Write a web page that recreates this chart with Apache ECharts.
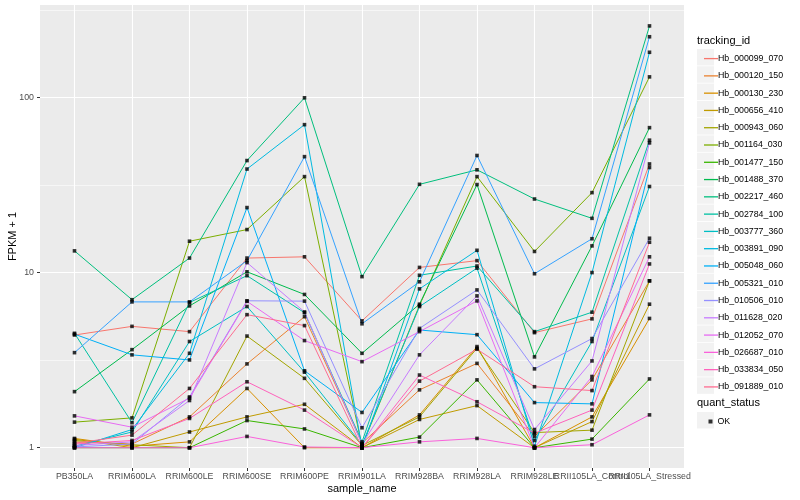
<!DOCTYPE html>
<html><head><meta charset="utf-8">
<script src="https://cdn.jsdelivr.net/npm/echarts@6/dist/echarts.min.js"></script>
<style>html,body{margin:0;padding:0;background:#fff}#c{width:800px;height:500px}</style>
</head><body><div id="c"></div>
<script>
const categories = ['PB350LA','RRIM600LA','RRIM600LE','RRIM600SE','RRIM600PE','RRIM901LA','RRIM928BA','RRIM928LA','RRIM928LE','RRII105LA_Control','RRII105LA_Stressed'];
const trackingIds = ['Hb_000099_070','Hb_000120_150','Hb_000130_230','Hb_000656_410','Hb_000943_060','Hb_001164_030','Hb_001477_150','Hb_001488_370','Hb_002217_460','Hb_002784_100','Hb_003777_360','Hb_003891_090','Hb_005048_060','Hb_005321_010','Hb_010506_010','Hb_011628_020','Hb_012052_070','Hb_026687_010','Hb_033834_050','Hb_091889_010'];
const colors = ['#F8766D','#EA8331','#D89000','#C09B00','#A3A500','#7CAE00','#39B600','#00BB4E','#00BF7D','#00C1A3','#00BFC4','#00BAE0','#00B0F6','#35A2FF','#9590FF','#C77CFF','#E76BF3','#FA62DB','#FF62BC','#FF6C91'];
const yTicks = [1, 10, 100];
const yMinorTicks = [3.1623, 31.623, 316.23];

const Hb_000099_070 = [4.4, 4.93, 4.6, 12.1, 12.3, 5.3, 10.7, 11.7, 4.54, 5.44, 41.7];
const Hb_000120_150 = [1.08, 1.05, 1.50, 3.01, 5.6, 1.06, 2.14, 3.03, 1.16, 2.44, 8.97];
const Hb_000130_230 = [1.13, 1.02, 1.08, 2.18, 1.0, 1.0, 1.54, 3.78, 1.0, 1.50, 5.47];
const Hb_000656_410 = [1.12, 1.0, 1.23, 1.50, 1.77, 1.0, 1.45, 1.74, 1.0, 1.41, 6.6];
const Hb_000943_060 = [1.10, 1.04, 1.0, 4.34, 2.49, 1.03, 1.50, 3.70, 1.22, 1.26, 8.97];
const Hb_001164_030 = [1.40, 1.48, 15.1, 17.6, 35.3, 1.02, 6.5, 35.3, 13.2, 28.6, 131];
const Hb_001477_150 = [1.0, 1.0, 1.0, 1.43, 1.28, 1.0, 1.15, 2.44, 1.0, 1.12, 2.47];
const Hb_001488_370 = [2.09, 3.63, 6.45, 10.1, 7.5, 3.46, 6.6, 31.8, 3.3, 14.2, 67.2];
const Hb_002217_460 = [13.3, 7.0, 12.1, 43.6, 99.5, 9.48, 31.9, 38.6, 26.3, 20.4, 256];
const Hb_002784_100 = [4.5, 1.39, 6.75, 9.6, 5.9, 1.08, 9.65, 10.9, 4.6, 5.94, 57];
const Hb_003777_360 = [1.02, 1.23, 4.04, 6.4, 2.70, 1.04, 6.4, 10.6, 1.1, 4.04, 31.0];
const Hb_003891_090 = [1.0, 1.27, 3.46, 39.0, 69.9, 1.0, 8.07, 13.4, 1.02, 10.0, 181];
const Hb_005048_060 = [4.45, 3.39, 3.17, 23.5, 2.75, 1.59, 4.7, 4.42, 1.81, 1.78, 39.8];
const Hb_005321_010 = [3.49, 6.8, 6.8, 11.7, 45.9, 5.1, 8.86, 46.6, 9.85, 15.6, 222];
const Hb_010506_010 = [1.01, 1.05, 1.95, 6.9, 6.87, 1.30, 4.8, 7.96, 2.82, 4.2, 15.7];
const Hb_011628_020 = [1.03, 1.08, 1.86, 11.4, 5.96, 1.05, 3.39, 7.36, 1.27, 3.13, 55];
const Hb_012052_070 = [1.52, 1.31, 1.92, 6.85, 4.09, 3.10, 4.6, 6.89, 1.0, 2.55, 12.3];
const Hb_026687_010 = [1.0, 1.0, 1.0, 1.16, 1.01, 1.0, 1.08, 1.13, 1.0, 1.04, 1.54];
const Hb_033834_050 = [1.05, 1.10, 1.47, 2.38, 1.64, 1.0, 2.60, 1.83, 1.21, 1.64, 11.2];
const Hb_091889_010 = [1.06, 1.18, 2.18, 5.75, 4.98, 1.0, 2.40, 3.65, 2.23, 2.12, 14.9];

const seriesValues = [Hb_000099_070, Hb_000120_150, Hb_000130_230, Hb_000656_410, Hb_000943_060, Hb_001164_030, Hb_001477_150, Hb_001488_370, Hb_002217_460, Hb_002784_100, Hb_003777_360, Hb_003891_090, Hb_005048_060, Hb_005321_010, Hb_010506_010, Hb_011628_020, Hb_012052_070, Hb_026687_010, Hb_033834_050, Hb_091889_010];

const FONT = '"Liberation Sans", Arial, Helvetica, sans-serif';
const catIdx = categories.map((c, i) => i);

const series = [];
seriesValues.forEach((vals, i) => {
  series.push({
    type: 'line', name: trackingIds[i], data: vals.map((v, j) => [j, v]),
    showSymbol: false, silent: true, z: 3, animation: false,
    lineStyle: { color: colors[i], width: 1 }, itemStyle: { color: colors[i] }
  });
});
const pts = [];
seriesValues.forEach(vals => vals.forEach((v, j) => pts.push([j, v])));
series.push({
  type: 'scatter', name: 'OK', data: pts, symbol: 'rect', symbolSize: 3.6, z: 5, silent: true,
  itemStyle: { color: '#000000' }, animation: false
});

const keyBoxes = [];
trackingIds.forEach((id, i) => {
  keyBoxes.push({ type: 'rect', left: 697, top: 49 + i * 17.28, shape: { width: 17, height: 16.5 }, style: { fill: '#F2F2F2' }, z: -1 });
});
keyBoxes.push({ type: 'rect', left: 697, top: 412, shape: { width: 17, height: 16.5 }, style: { fill: '#F2F2F2' }, z: -1 });

const labelStyle = { fontFamily: FONT, fontSize: 8.8, color: '#4D4D4D', margin: 4, hideOverlap: false, showMinLabel: true, showMaxLabel: true,
  formatter: v => categories[Math.round(v)] };
function extraXAxis(idxList) {
  return {
    type: 'value', min: -0.6, max: 10.6, position: 'bottom',
    axisLine: { show: false, onZero: false }, axisTick: { show: false }, splitLine: { show: false },
    axisLabel: Object.assign({ customValues: idxList }, labelStyle)
  };
}

const chart = echarts.init(document.getElementById('c'), null, { renderer: 'canvas' });
chart.setOption({
  animation: false,
  backgroundColor: '#ffffff',
  grid: { left: 40, right: 116, top: 5, bottom: 32, show: true, backgroundColor: '#EBEBEB', borderWidth: 0,
    containLabel: false, outerBoundsMode: 'none' },
  xAxis: [{
    type: 'value', min: -0.6, max: 10.6, position: 'bottom',
    name: 'sample_name', nameLocation: 'middle', nameGap: 15, nameMoveOverlap: false,
    nameTextStyle: { fontFamily: FONT, fontSize: 11, color: '#000' },
    axisLine: { show: false, onZero: false },
    axisTick: { show: true, length: 3, lineStyle: { color: '#333333', width: 1 }, customValues: catIdx },
    axisLabel: Object.assign({ customValues: catIdx.slice(0, 9) }, labelStyle),
    splitLine: { show: true, lineStyle: { color: '#ffffff', width: 1.1 } }
  }, extraXAxis([9]), extraXAxis([10])],
  yAxis: [{
    type: 'log', logBase: 10, min: 0.766, max: 337, position: 'left',
    name: 'FPKM + 1', nameLocation: 'middle', nameGap: 22, nameRotate: 90, nameMoveOverlap: false,
    nameTextStyle: { fontFamily: FONT, fontSize: 11, color: '#000' },
    axisLine: { show: false, onZero: false },
    axisTick: { show: true, length: 3, lineStyle: { color: '#333333', width: 1 }, customValues: yTicks },
    axisLabel: { customValues: yTicks, formatter: v => String(Math.round(v)), fontFamily: FONT, fontSize: 8.8, color: '#4D4D4D', margin: 6,
      showMinLabel: true, showMaxLabel: true },
    splitLine: { show: true, lineStyle: { color: '#ffffff', width: 1.1 } }
  }, {
    type: 'log', logBase: 10, min: 0.766, max: 337, position: 'left',
    axisLine: { show: false, onZero: false },
    axisTick: { show: false, customValues: yMinorTicks },
    axisLabel: { show: false, customValues: yMinorTicks },
    splitLine: { show: true, lineStyle: { color: '#ffffff', width: 0.55 } }
  }],
  legend: [
    { data: trackingIds, orient: 'vertical', left: 699, top: 47.6, icon: 'rect', itemWidth: 14, itemHeight: 1.3, itemGap: 5.28,
      selectedMode: false, textStyle: { fontFamily: FONT, fontSize: 8.8, lineHeight: 12, color: '#000', padding: [0, 0, 0, -5] } },
    { data: ['OK'], orient: 'vertical', left: 703.5, top: 410.5, icon: 'rect', itemWidth: 4, itemHeight: 4,
      selectedMode: false, textStyle: { fontFamily: FONT, fontSize: 8.8, lineHeight: 12, color: '#000', padding: [0, 0, 0, 0] } }
  ],
  graphic: [
    { type: 'text', left: 697, top: 35, style: { text: 'tracking_id', font: '11px ' + FONT, fill: '#000' } },
    { type: 'text', left: 697, top: 397, style: { text: 'quant_status', font: '11px ' + FONT, fill: '#000' } }
  ].concat(keyBoxes),
  series: series
});
</script></body></html>
